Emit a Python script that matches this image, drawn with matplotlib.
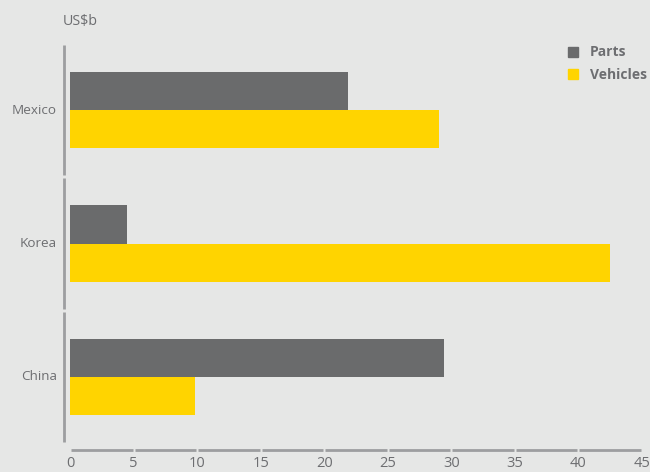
import matplotlib
matplotlib.use('Agg')
import matplotlib.pyplot as plt
from matplotlib.patches import Patch
from matplotlib.transforms import blended_transform_factory
import numpy as np

# data (US$b)
countries = ['China', 'Korea', 'Mexico']
parts = [29.4, 4.5, 21.9]
vehicles = [9.8, 42.5, 29.0]
xticks = [0, 5, 10, 15, 20, 25, 30, 35, 40, 45]

bg = '#e6e7e6'
grey_bar = '#6a6b6c'
yellow = '#ffd400'
txt = '#6d6e71'
axc = '#9d9ea0'

plt.rcParams['font.family'] = ['Open Sans', 'DejaVu Sans']

fig = plt.figure(figsize=(6.5, 4.72), dpi=100, facecolor=bg)
ax = fig.add_axes([70/650, (472-443.75)/472, 572/650, 400.5/472])
ax.set_facecolor(bg)

y = np.arange(len(countries))
h = 0.285
ax.barh(y + h/2, parts, height=h, color=grey_bar, label='Parts')
ax.barh(y - h/2, vehicles, height=h, color=yellow, label='Vehicles')

ax.set_xlim(0, 45)
ax.set_ylim(-0.5, len(countries) - 0.5)
for s in ax.spines.values():
    s.set_visible(False)
ax.set_xticks([])
ax.set_yticks([])

# segmented left axis, one piece per category
tr_left = blended_transform_factory(ax.transAxes, ax.transData)
xl = -6.5/572
for i in y:
    ax.plot([xl, xl], [i - 0.49, i + 0.49], color=axc, lw=2, transform=tr_left,
            clip_on=False, solid_capstyle='butt')
    ax.text(-13/572, i, countries[i], transform=tr_left,
            ha='right', va='center', fontsize=9.7, color=txt)

# segmented bottom axis, one piece per tick interval
tr_x = ax.get_xaxis_transform()
tr_lab = blended_transform_factory(ax.transData, fig.transFigure)
yb = -6.3/400.5
for a, b in zip(xticks[:-1], xticks[1:]):
    ax.plot([a + 0.08, b - 0.08], [yb, yb], color=axc, lw=2, transform=tr_x,
            clip_on=False, solid_capstyle='butt')
for t in xticks:
    ax.text(t, 1/472, str(t), transform=tr_lab, ha='center', va='bottom',
            fontsize=10.5, color=txt)

fig.text(63/650, 1 - 21/472, 'US$b', ha='left', va='center', fontsize=10.3, color=txt)

handles = [Patch(color=grey_bar), Patch(color=yellow)]
leg = fig.legend(handles, ['Parts', 'Vehicles'], loc='upper right',
                 bbox_to_anchor=(659/650, 1 - 33/472), frameon=False,
                 handlelength=0.75, handleheight=0.75, handletextpad=0.8,
                 labelspacing=0.6, prop={'size': 10, 'weight': 'bold'})
for t in leg.get_texts():
    t.set_color(txt)

fig.savefig('out.png', dpi=100, facecolor=bg)
